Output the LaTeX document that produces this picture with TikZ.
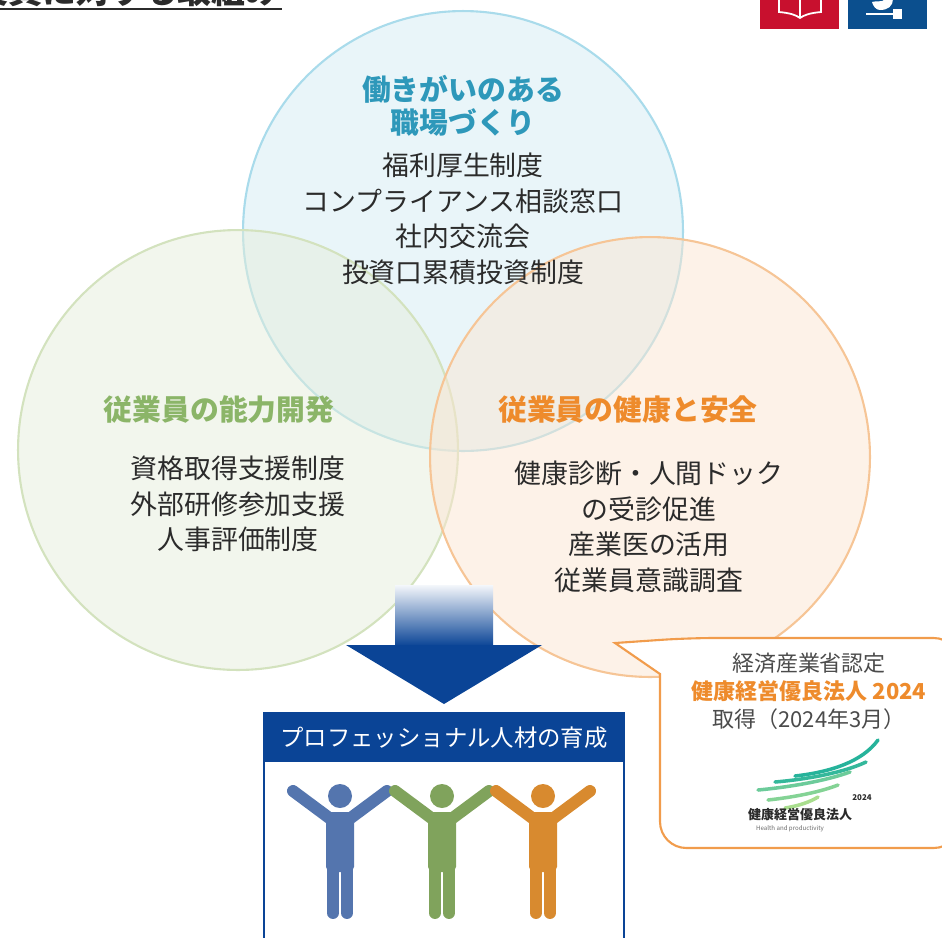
\documentclass[tikz,border=0pt]{standalone}
\usepackage{fontspec}
\setmainfont{Noto Sans CJK JP}
\usetikzlibrary{calc}
\definecolor{workcolor}{HTML}{2E98BA}
\definecolor{workfill}{HTML}{D3ECF3}
\definecolor{workline}{HTML}{A9DBEB}
\definecolor{skillcolor}{HTML}{8BB568}
\definecolor{skillfill}{HTML}{E6EDDB}
\definecolor{skillline}{HTML}{D3E2BE}
\definecolor{healthcolor}{HTML}{EE8B2C}
\definecolor{healthfill}{HTML}{FBE5D1}
\definecolor{healthline}{HTML}{F6C596}
\definecolor{navycolor}{HTML}{0A4496}
\definecolor{arrowtop}{HTML}{F4F7FB}
\definecolor{arrowmid}{HTML}{AFC1E2}
\definecolor{textgray}{HTML}{2B2B2B}
\definecolor{sdgred}{HTML}{C8102E}
\definecolor{sdgblue}{HTML}{0B4F8E}
\definecolor{manblue}{HTML}{5475AE}
\definecolor{mangreen}{HTML}{80A35C}
\definecolor{manorange}{HTML}{D88A2F}
\definecolor{wingpale}{HTML}{A9DE8E}
\definecolor{wingmid}{HTML}{6CCB9A}
\definecolor{wingteal}{HTML}{26B39B}

\tikzset{
  themecircle/.style={circle, line width=1.2pt, minimum size=8.8cm, inner sep=0pt, fill opacity=0.5},
  headtext/.style={font=\bfseries\fontsize{16.4}{18.7}\selectfont, align=center},
  itemtext/.style={font=\fontsize{15.3}{20.2}\selectfont, text=textgray, align=center},
  callout/.style={draw=healthcolor!85, line width=1.2pt, fill=white}
}

% one raised-arms figure: x position, colour
\newcommand{\drawperson}[2]{%
  \fill[#2] (#1,796) circle[radius=0.24cm];
  \draw[#2, line width=6.8pt, line cap=round] (#1-47,791) -- (#1-8,820);
  \draw[#2, line width=6.8pt, line cap=round] (#1+47,791) -- (#1+8,820);
  \fill[#2, rounded corners=3pt] (#1-14,812) rectangle (#1+14,872);
  \draw[#2, line width=6.8pt, line cap=round] (#1-7,866) -- (#1-7,913);
  \draw[#2, line width=6.8pt, line cap=round] (#1+7,866) -- (#1+7,913);
}

\begin{document}
\begin{tikzpicture}[x=0.02cm, y=-0.02cm]
    \useasboundingbox (0,0) rectangle (942,937);
    \clip (0,0) rectangle (942,937);

    % Heading (runs off the top edge)
    \node[anchor=base east, inner sep=0pt, font=\bfseries\fontsize{19.3}{20}\selectfont, text=textgray] (title) at (280,3) {従業員に対する取組み};
    \draw[textgray, line width=1.5pt] (0,9) -- (282,9);

    % SDG tiles
    \fill[sdgred] (760,-5) rectangle (839,29);
    \draw[white, line width=1pt] (779,-2) -- (779,12) .. controls (790,13) and (796,15) .. (800,18)
        .. controls (804,15) and (810,13) .. (821,12) -- (821,-2);
    \draw[white, line width=1pt] (800,-2) -- (800,18);
    \fill[sdgblue] (848,-5) rectangle (927,29);
    \fill[white] (872,2) .. controls (878,0) and (882,3) .. (885,-1) -- (893,-1)
        .. controls (893,6) and (888,10) .. (880,10) .. controls (876,10) and (873,6) .. cycle;
    \draw[white, line width=1.2pt] (866,14) -- (893,14);
    \fill[white] (893,9) rectangle (902,19);

    % Three themes
    \node[themecircle, draw=workline, fill=workfill] (work) at (463,231) {};
    \node[themecircle, draw=skillline, fill=skillfill] (skill) at (238,450) {};
    \node[themecircle, draw=healthline, fill=healthfill] (health) at (650,457) {};

    % Workplace
    \node[headtext, text=workcolor] (workhead) at (463,106) {働きがいのある\\職場づくり};
    \node[itemtext] (workitems) at (463,219) {福利厚生制度\\コンプライアンス相談窓口\\社内交流会\\投資口累積投資制度};

    % Skills
    \node[headtext, text=skillcolor] (skillhead) at (219,410) {従業員の能力開発};
    \node[itemtext] (skillitems) at (238,504) {資格取得支援制度\\外部研修参加支援\\人事評価制度};

    % Health
    \node[headtext, text=healthcolor] (healthhead) at (628,410) {従業員の健康と安全};
    \node[itemtext] (healthitems) at (649,527) {健康診断・人間ドック\\の受診促進\\産業医の活用\\従業員意識調査};

    % Down arrow
    \shade[top color=arrowtop, middle color=arrowmid, bottom color=navycolor] (395,585) rectangle (493,646);
    \fill[navycolor] (346,645) -- (542,645) -- (444,704) -- cycle;

    % Result box
    \draw[navycolor, line width=1.5pt, fill=white] (264,713) rectangle (624,960);
    \fill[navycolor] (264,713) rectangle (624,762);
    \node[text=white, font=\fontsize{13.3}{15}\selectfont] (result) at (444,738) {プロフェッショナル人材の育成};
    \drawperson{340}{manblue}
    \drawperson{442}{mangreen}
    \drawperson{543}{manorange}

    % Certification callout
    \draw[callout] (615,643) -- (660,674) [rounded corners=15pt] -- (660,848) -- (960,848) -- (960,638) -- (688,638) [sharp corners] -- cycle;
    \node[align=center, text=textgray!85, font=\fontsize{12.5}{15.9}\selectfont] (cert) at (809,691)
        {経済産業省認定\\{\bfseries\color{healthcolor}健康経営優良法人 2024}\\取得（2024年3月）};

    % Logo wing
    \draw[wingteal, line width=2pt, line cap=round] (795,776) .. controls (830,772) and (862,762) .. (878,740);
    \draw[wingteal!80!wingmid, line width=2pt, line cap=round] (775,782) .. controls (810,779) and (845,772) .. (866,762);
    \draw[wingmid, line width=2pt, line cap=round] (758,790) .. controls (790,787) and (825,781) .. (850,772);
    \draw[wingmid!60!wingpale, line width=2pt, line cap=round] (768,800) .. controls (795,797) and (820,792) .. (838,785);
    \draw[wingpale, line width=2pt, line cap=round] (785,808) .. controls (798,806) and (810,802) .. (818,797);
    \node[font=\bfseries\fontsize{4.5}{5}\selectfont, text=textgray] (logoyear) at (862,798) {2024};
    \node[font=\bfseries\fontsize{7.4}{8}\selectfont, text=textgray] (logoname) at (800,815) {健康経営優良法人};
    \node[font=\fontsize{3.5}{4}\selectfont, text=textgray!70] (logosub) at (790,829) {Health and productivity};
\end{tikzpicture}
\end{document}
